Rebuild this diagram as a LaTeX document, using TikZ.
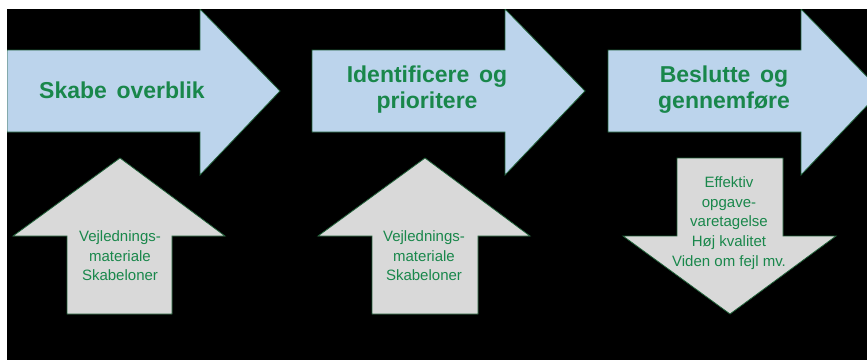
\documentclass[tikz,border=0pt]{standalone}
\usepackage{fontspec}
\setmainfont{Liberation Sans}
\definecolor{txtgreen}{RGB}{25,135,75}
\definecolor{edgegreen}{RGB}{30,95,55}
\definecolor{arrowblue}{RGB}{188,212,236}
\definecolor{arrowgray}{RGB}{217,217,217}
\newcommand\mywidesp{\spaceskip=0.42em\relax}
\begin{document}
\begin{tikzpicture}[x=1pt,y=1pt,
  bigarrow/.style={fill=arrowblue, draw=edgegreen, line width=0.8pt, line join=miter},
  smallarrow/.style={fill=arrowgray, draw=edgegreen, line width=0.8pt},
  bigtext/.style={text=txtgreen, font=\bfseries\fontsize{23}{26}\selectfont\mywidesp, align=center, inner sep=0pt},
  smalltext/.style={text=txtgreen, font=\fontsize{15}{19.6}\selectfont, align=center, inner sep=0pt}]
\useasboundingbox (0,0) rectangle (867,360);
\fill[white] (0,0) rectangle (867,360);
\fill[black] (7,0) rectangle (867,351);
\begin{scope}
\clip (7,0) rectangle (867,351);
\foreach \x in {7,312,608}{
  \draw[bigarrow] (\x,310) -- (\x+193,310) -- (\x+193,351) -- (\x+273,269) -- (\x+193,185) -- (\x+193,228) -- (\x,228) -- cycle;
}
\end{scope}
% up arrows
\draw[smallarrow] (120,202) -- (225,124) -- (172,124) -- (172,46) -- (67,46) -- (67,124) -- (13,124) -- cycle;
\draw[smallarrow] (425,202) -- (530,124) -- (478,124) -- (478,46) -- (372,46) -- (372,124) -- (318,124) -- cycle;
% down arrow
\draw[smallarrow] (730,46) -- (836,124) -- (783,124) -- (783,202) -- (677,202) -- (677,124) -- (623,124) -- cycle;
\node[bigtext] (t1) at (122,270) {Skabe overblik};
\node[bigtext] (t2) at (427,270) {Identificere og\\prioritere};
\node[bigtext] (t3) at (724,270) {Beslutte og\\gennemføre};
\node[smalltext] (s1) at (120,104) {Vejlednings-\\materiale\\Skabeloner};
\node[smalltext] (s2) at (424,104) {Vejlednings-\\materiale\\Skabeloner};
\node[smalltext] (d1) at (729,137) {Effektiv\\opgave-\\varetagelse\\Høj kvalitet\\Viden om fejl mv.};
\end{tikzpicture}
\end{document}
